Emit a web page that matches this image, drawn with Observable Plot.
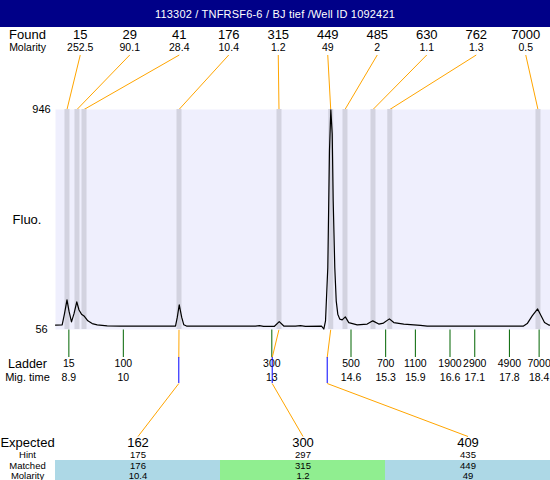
<!DOCTYPE html>
<html><head><meta charset="utf-8">
<script src="https://cdn.jsdelivr.net/npm/d3@7"></script>
<script src="https://cdn.jsdelivr.net/npm/@observablehq/plot@0.6"></script>
<style>
body{margin:0;background:#fff;}
#wrap{position:relative;width:550px;height:480px;overflow:hidden;font-family:"Liberation Sans",Arial,sans-serif;}
#wrap > *{position:absolute;left:0;}
#hdr{top:0;width:550px;height:27px;background:#000088;color:#fff;font-size:11px;line-height:29px;text-align:center;letter-spacing:0.2px;z-index:5;}
</style></head><body>
<div id="wrap"><div id="hdr"></div></div>
<script>
const title = "113302 / TNFRSF6-6 / BJ tief /Well ID 1092421";

// Found peaks (size bp, molarity, migration time)
const foundSize = [15, 29, 41, 176, 315, 449, 485, 630, 762, 7000];
const foundMolarity = [252.5, 90.1, 28.4, 10.4, 1.2, 49, 2, 1.1, 1.3, 0.5];
const foundTime = [8.862, 9.064, 9.206, 11.125, 13.145, 14.19, 14.478, 15.044, 15.383, 18.377];

// Ladder
const ladderSize = [15, 100, 300, 500, 700, 1100, 1900, 2900, 4900, 7000];
const ladderTime = [8.9, 10, 13, 14.6, 15.3, 15.9, 16.6, 17.1, 17.8, 18.4];

// Electropherogram trace
const traceTime = [8.630, 8.765, 8.812, 8.862, 8.903, 8.953, 9.004, 9.060, 9.105, 9.155, 9.206, 9.283, 9.371, 9.472, 9.674, 9.943,
  11.054, 11.090, 11.130, 11.180, 11.222, 11.276, 12.670, 12.751, 12.832, 13.054, 13.150, 13.242, 13.478, 13.579, 13.680,
  14.004, 14.050, 14.085, 14.131, 14.165, 14.192, 14.220, 14.240, 14.272, 14.301, 14.333, 14.373, 14.422, 14.485, 14.555,
  14.725, 14.927, 15.040, 15.161, 15.256, 15.375, 15.464, 15.666, 16.004, 16.139, 18.085, 18.160, 18.260, 18.370, 18.442,
  18.509, 18.596, 18.630];
const traceFluo = [74, 75, 120, 176, 130, 87, 120, 168, 135, 118, 111, 91, 80, 75, 71, 70,
  70, 105, 156, 105, 75, 70, 70, 72, 69, 69, 88, 70, 70, 72, 69,
  70, 58, 91, 307, 780, 945, 848, 577, 307, 172, 118, 98, 95, 107, 84,
  75, 78, 91, 78, 82, 99, 84, 78, 73, 70, 70, 80, 111, 139, 111,
  84, 74, 73];

// Expected fragments table
const expected = [162, 300, 409];
const hint = [175, 297, 435];
const hintTime = [11.121, 13.008, 14.119];
const matched = [176, 315, 449];
const matchedTime = [11.125, 13.145, 14.19];
const matchedMolarity = [10.4, 1.2, 49];
const matchStatus = ["shifted", "close", "shifted"];

const timeDomain = [8.63, 18.63];
const fluoDomain = [56, 946];
const fluoTicks = [56, 946];

document.getElementById("hdr").textContent = title;

const span = timeDomain[1] - timeDomain[0];
const found = foundSize.map((s, i) => ({
  size: s, mol: foundMolarity[i], t: foundTime[i],
  lt: timeDomain[0] + (i + 0.5) * span / foundSize.length
}));
const ladder = ladderSize.map((s, i) => ({size: s, t: ladderTime[i]}));
const trace = traceTime.map((t, i) => ({t, v: traceFluo[i]}));
const nc = expected.length;
const table = expected.map((e, i) => ({
  exp: e, hint: hint[i], hintT: hintTime[i], m: matched[i], mT: matchedTime[i],
  mol: matchedMolarity[i], status: matchStatus[i],
  c1: timeDomain[0] + i * span / nc, c2: timeDomain[0] + (i + 1) * span / nc,
  ct: timeDomain[0] + (i + 0.5) * span / nc
}));

const font = "'Liberation Sans', Arial, sans-serif";
const wrap = document.getElementById("wrap");

// Annotation layer (page y coordinates from 27 to 480)
const top0 = 27, H = 453;
const rowE = 442, rowH = 454.5, rowM = 465, rowMo = 475.5, small = 9.5;
const lbl = (txt, y, size) => Plot.text([txt], {text: d => d, frameAnchor: "left", dx: 27, y, fontSize: size, textAnchor: "middle"});
const ann = Plot.plot({
  width: 550, height: H,
  marginLeft: 0, marginRight: 0, marginTop: 0, marginBottom: 0,
  style: {fontFamily: font, background: "white"},
  x: {domain: timeDomain, range: [55, 550], axis: null},
  y: {domain: [top0, top0 + H], range: [0, H], axis: null},
  color: {domain: ["shifted", "close"], range: ["#add8e6", "#90ee90"]},
  marks: [
    lbl("Found", 34, 13),
    lbl("Molarity", 47, 10.5),
    Plot.text(found, {x: "lt", y: 34, text: d => String(d.size), fontSize: 13}),
    Plot.text(found, {x: "lt", y: 47, text: d => String(d.mol), fontSize: 10.5}),
    Plot.link(found, {x1: "lt", y1: 54.5, x2: "t", y2: 109, stroke: "orange", strokeWidth: 1}),
    Plot.ruleX(ladder, {x: "t", y1: 329, y2: 357, stroke: "#006400"}),
    Plot.text(ladder, {x: "t", y: 363, text: d => String(d.size), fontSize: 10.5}),
    Plot.text(ladder, {x: "t", y: 377, text: d => String(d.t), fontSize: 10.5}),
    lbl("Ladder", 363, 12.5),
    lbl("Mig. time", 377, 11),
    Plot.rect(table, {x1: "c1", x2: "c2", y1: 460, y2: 480, fill: "status"}),
    lbl("Expected", rowE, 13),
    lbl("Hint", rowH, small),
    lbl("Matched", rowM, small),
    lbl("Molarity", rowMo, small),
    Plot.text(table, {x: "ct", y: rowE, text: d => String(d.exp), fontSize: 13}),
    Plot.text(table, {x: "ct", y: rowH, text: d => String(d.hint), fontSize: small}),
    Plot.text(table, {x: "ct", y: rowM, text: d => String(d.m), fontSize: small}),
    Plot.text(table, {x: "ct", y: rowMo, text: d => String(d.mol), fontSize: small}),
    Plot.link(table, {x1: "mT", y1: 329, x2: "hintT", y2: 357, stroke: "orange"}),
    Plot.ruleX(table, {x: "hintT", y1: 357, y2: 383, stroke: "blue"}),
    Plot.link(table, {x1: "hintT", y1: 383, x2: "ct", y2: 436, stroke: "orange"})
  ]
});
ann.style.top = top0 + "px";
wrap.appendChild(ann);

// Main electropherogram layer
const main = Plot.plot({
  width: 550, height: 240,
  marginLeft: 55, marginRight: 0, marginTop: 9, marginBottom: 11,
  style: {fontFamily: font, background: "transparent", overflow: "visible"},
  x: {domain: timeDomain, axis: null},
  y: {domain: fluoDomain, axis: null},
  marks: [
    Plot.frame({fill: "#efeffd", stroke: "none"}),
    Plot.ruleX(found, {x: "t", stroke: "#d3d3e0", strokeWidth: 5}),
    Plot.line(trace, {x: "t", y: "v", stroke: "black", strokeWidth: 1.2}),
    Plot.text(fluoTicks, {y: d => d, text: d => String(d), frameAnchor: "left", dx: -14, fontSize: 11, textAnchor: "middle"}),
    Plot.text(["Fluo."], {text: d => d, frameAnchor: "left", dx: -28.5, fontSize: 13, textAnchor: "middle"})
  ]
});
main.style.top = "100px";
wrap.appendChild(main);
</script>
</body></html>
